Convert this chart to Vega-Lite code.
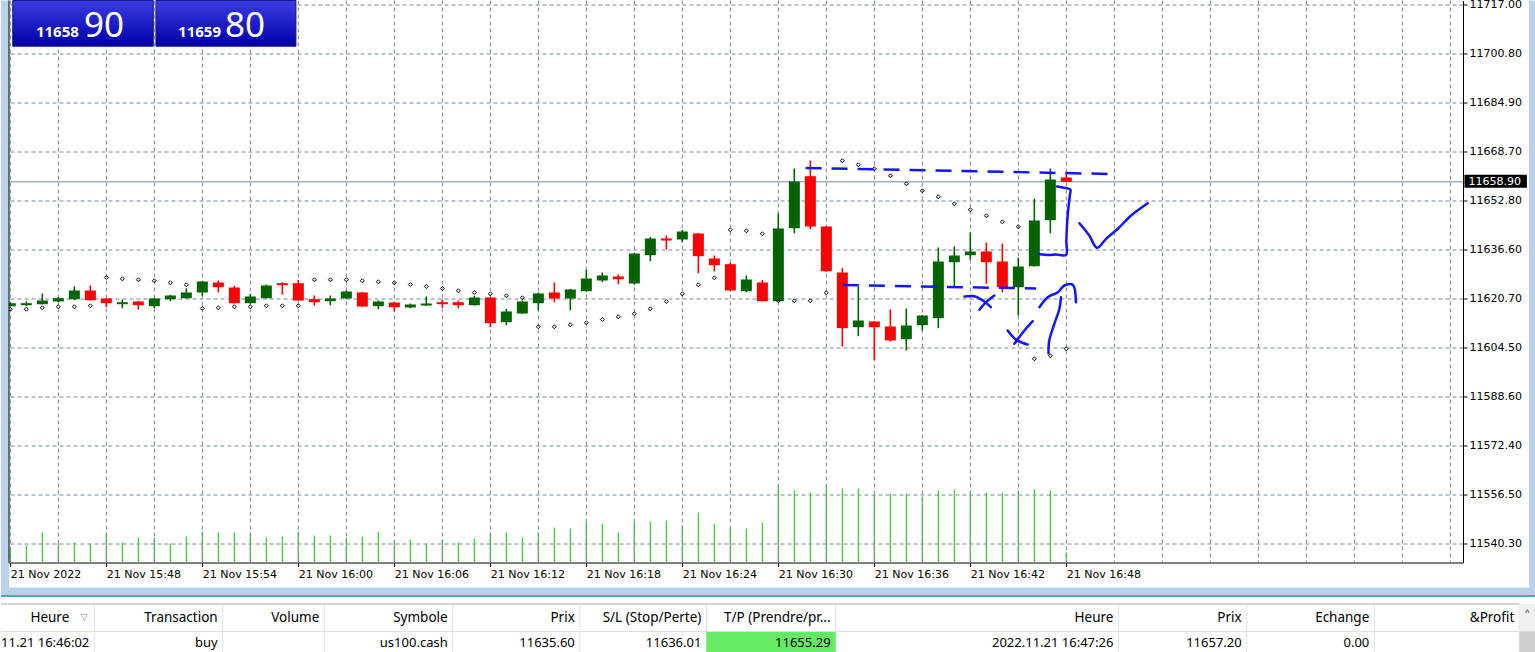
{
  "$schema": "https://vega.github.io/schema/vega-lite/v6.json",
  "background": "#ffffff",
  "padding": {"left": 0, "top": -2.5, "right": 0, "bottom": 0},
  "spacing": 0,
  "config": {"view": {"stroke": null}},
  "datasets": {
    "candles": [
      {"t": "2022-11-21T15:42", "open": 11618.15, "high": 11619.46, "low": 11618.05, "close": 11619.13, "vol": 140},
      {"t": "2022-11-21T15:43", "open": 11618.48, "high": 11619.69, "low": 11618.21, "close": 11619.13, "vol": 170},
      {"t": "2022-11-21T15:44", "open": 11618.80, "high": 11622.31, "low": 11618.70, "close": 11620.01, "vol": 300},
      {"t": "2022-11-21T15:45", "open": 11619.69, "high": 11621.16, "low": 11619.52, "close": 11620.77, "vol": 190},
      {"t": "2022-11-21T15:46", "open": 11620.44, "high": 11624.60, "low": 11620.11, "close": 11623.29, "vol": 200},
      {"t": "2022-11-21T15:47", "open": 11623.29, "high": 11624.93, "low": 11620.01, "close": 11620.11, "vol": 190},
      {"t": "2022-11-21T15:48", "open": 11620.67, "high": 11620.83, "low": 11617.82, "close": 11619.13, "vol": 290},
      {"t": "2022-11-21T15:49", "open": 11618.80, "high": 11620.34, "low": 11617.49, "close": 11619.46, "vol": 200},
      {"t": "2022-11-21T15:50", "open": 11619.69, "high": 11619.85, "low": 11617.07, "close": 11618.48, "vol": 250},
      {"t": "2022-11-21T15:51", "open": 11618.15, "high": 11620.83, "low": 11617.49, "close": 11620.67, "vol": 250},
      {"t": "2022-11-21T15:52", "open": 11620.44, "high": 11621.82, "low": 11619.79, "close": 11621.65, "vol": 190},
      {"t": "2022-11-21T15:53", "open": 11620.77, "high": 11624.05, "low": 11620.67, "close": 11622.64, "vol": 260},
      {"t": "2022-11-21T15:54", "open": 11622.64, "high": 11626.40, "low": 11621.56, "close": 11626.24, "vol": 310},
      {"t": "2022-11-21T15:55", "open": 11625.91, "high": 11626.57, "low": 11622.64, "close": 11624.37, "vol": 300},
      {"t": "2022-11-21T15:56", "open": 11624.27, "high": 11624.83, "low": 11619.03, "close": 11619.13, "vol": 300},
      {"t": "2022-11-21T15:57", "open": 11619.13, "high": 11622.21, "low": 11619.03, "close": 11621.33, "vol": 290},
      {"t": "2022-11-21T15:58", "open": 11620.77, "high": 11625.26, "low": 11620.67, "close": 11624.93, "vol": 250},
      {"t": "2022-11-21T15:59", "open": 11625.68, "high": 11626.01, "low": 11621.98, "close": 11625.03, "vol": 260},
      {"t": "2022-11-21T16:00", "open": 11625.68, "high": 11626.80, "low": 11619.85, "close": 11620.01, "vol": 310},
      {"t": "2022-11-21T16:01", "open": 11620.44, "high": 11621.65, "low": 11618.38, "close": 11619.46, "vol": 270},
      {"t": "2022-11-21T16:02", "open": 11619.79, "high": 11621.65, "low": 11618.48, "close": 11620.67, "vol": 270},
      {"t": "2022-11-21T16:03", "open": 11620.67, "high": 11623.29, "low": 11620.51, "close": 11622.96, "vol": 250},
      {"t": "2022-11-21T16:04", "open": 11622.64, "high": 11622.80, "low": 11617.89, "close": 11618.05, "vol": 260},
      {"t": "2022-11-21T16:05", "open": 11618.15, "high": 11620.01, "low": 11617.16, "close": 11619.69, "vol": 310},
      {"t": "2022-11-21T16:06", "open": 11619.36, "high": 11619.52, "low": 11616.41, "close": 11617.82, "vol": 210},
      {"t": "2022-11-21T16:07", "open": 11617.72, "high": 11619.03, "low": 11617.49, "close": 11618.70, "vol": 230},
      {"t": "2022-11-21T16:08", "open": 11618.38, "high": 11621.33, "low": 11618.21, "close": 11619.03, "vol": 190},
      {"t": "2022-11-21T16:09", "open": 11619.46, "high": 11620.34, "low": 11617.62, "close": 11618.80, "vol": 230},
      {"t": "2022-11-21T16:10", "open": 11619.46, "high": 11620.01, "low": 11617.49, "close": 11618.48, "vol": 200},
      {"t": "2022-11-21T16:11", "open": 11618.48, "high": 11621.56, "low": 11618.38, "close": 11621.00, "vol": 240},
      {"t": "2022-11-21T16:12", "open": 11621.00, "high": 11621.16, "low": 11611.27, "close": 11612.58, "vol": 290},
      {"t": "2022-11-21T16:13", "open": 11612.91, "high": 11617.29, "low": 11611.92, "close": 11616.41, "vol": 300},
      {"t": "2022-11-21T16:14", "open": 11615.76, "high": 11620.01, "low": 11615.59, "close": 11619.69, "vol": 250},
      {"t": "2022-11-21T16:15", "open": 11619.13, "high": 11622.64, "low": 11616.84, "close": 11622.31, "vol": 300},
      {"t": "2022-11-21T16:16", "open": 11622.64, "high": 11625.91, "low": 11619.46, "close": 11620.67, "vol": 350},
      {"t": "2022-11-21T16:17", "open": 11620.67, "high": 11623.85, "low": 11616.84, "close": 11623.62, "vol": 340},
      {"t": "2022-11-21T16:18", "open": 11623.06, "high": 11630.07, "low": 11622.96, "close": 11627.22, "vol": 410},
      {"t": "2022-11-21T16:19", "open": 11626.57, "high": 11629.19, "low": 11626.01, "close": 11628.21, "vol": 390},
      {"t": "2022-11-21T16:20", "open": 11627.88, "high": 11628.53, "low": 11625.36, "close": 11626.99, "vol": 300},
      {"t": "2022-11-21T16:21", "open": 11625.59, "high": 11635.58, "low": 11625.26, "close": 11635.41, "vol": 410},
      {"t": "2022-11-21T16:22", "open": 11634.86, "high": 11640.76, "low": 11632.89, "close": 11640.33, "vol": 410},
      {"t": "2022-11-21T16:23", "open": 11640.33, "high": 11641.31, "low": 11636.73, "close": 11639.67, "vol": 420},
      {"t": "2022-11-21T16:24", "open": 11640.00, "high": 11643.18, "low": 11639.12, "close": 11642.62, "vol": 370},
      {"t": "2022-11-21T16:25", "open": 11641.97, "high": 11642.13, "low": 11628.96, "close": 11634.53, "vol": 500},
      {"t": "2022-11-21T16:26", "open": 11633.78, "high": 11634.76, "low": 11629.52, "close": 11631.58, "vol": 390},
      {"t": "2022-11-21T16:27", "open": 11631.91, "high": 11632.47, "low": 11623.13, "close": 11623.29, "vol": 350},
      {"t": "2022-11-21T16:28", "open": 11623.06, "high": 11628.21, "low": 11622.73, "close": 11626.90, "vol": 340},
      {"t": "2022-11-21T16:29", "open": 11625.91, "high": 11626.80, "low": 11619.69, "close": 11619.79, "vol": 400},
      {"t": "2022-11-21T16:30", "open": 11619.79, "high": 11648.62, "low": 11619.69, "close": 11643.61, "vol": 770},
      {"t": "2022-11-21T16:31", "open": 11643.70, "high": 11663.26, "low": 11642.07, "close": 11659.01, "vol": 720},
      {"t": "2022-11-21T16:32", "open": 11660.74, "high": 11665.89, "low": 11643.38, "close": 11644.26, "vol": 700},
      {"t": "2022-11-21T16:33", "open": 11644.26, "high": 11644.40, "low": 11629.42, "close": 11629.61, "vol": 770},
      {"t": "2022-11-21T16:34", "open": 11629.19, "high": 11630.60, "low": 11604.94, "close": 11610.94, "vol": 740},
      {"t": "2022-11-21T16:35", "open": 11611.27, "high": 11624.60, "low": 11608.32, "close": 11613.46, "vol": 740},
      {"t": "2022-11-21T16:36", "open": 11613.13, "high": 11613.30, "low": 11600.59, "close": 11611.27, "vol": 680},
      {"t": "2022-11-21T16:37", "open": 11611.50, "high": 11617.07, "low": 11606.58, "close": 11606.91, "vol": 690},
      {"t": "2022-11-21T16:38", "open": 11607.34, "high": 11617.39, "low": 11603.63, "close": 11611.82, "vol": 690},
      {"t": "2022-11-21T16:39", "open": 11611.92, "high": 11615.26, "low": 11610.19, "close": 11615.10, "vol": 660},
      {"t": "2022-11-21T16:40", "open": 11614.22, "high": 11637.38, "low": 11610.94, "close": 11632.79, "vol": 720},
      {"t": "2022-11-21T16:41", "open": 11632.56, "high": 11637.71, "low": 11624.37, "close": 11634.76, "vol": 730},
      {"t": "2022-11-21T16:42", "open": 11634.86, "high": 11642.30, "low": 11633.35, "close": 11636.07, "vol": 710},
      {"t": "2022-11-21T16:43", "open": 11636.07, "high": 11639.02, "low": 11625.49, "close": 11632.56, "vol": 700},
      {"t": "2022-11-21T16:44", "open": 11632.79, "high": 11638.69, "low": 11622.73, "close": 11624.37, "vol": 700},
      {"t": "2022-11-21T16:45", "open": 11624.37, "high": 11634.01, "low": 11615.10, "close": 11631.16, "vol": 720},
      {"t": "2022-11-21T16:46", "open": 11631.25, "high": 11653.34, "low": 11631.16, "close": 11646.23, "vol": 730},
      {"t": "2022-11-21T16:47", "open": 11646.33, "high": 11663.26, "low": 11642.07, "close": 11659.66, "vol": 720},
      {"t": "2022-11-21T16:48", "open": 11660.32, "high": 11662.18, "low": 11658.78, "close": 11658.90, "vol": 100}
    ],
    "sar": [
      {"t": "2022-11-21T15:42", "sar": 11617.16}, {"t": "2022-11-21T15:43", "sar": 11617.16},
      {"t": "2022-11-21T15:44", "sar": 11617.62}, {"t": "2022-11-21T15:45", "sar": 11617.95},
      {"t": "2022-11-21T15:46", "sar": 11617.95}, {"t": "2022-11-21T15:47", "sar": 11618.28},
      {"t": "2022-11-21T15:48", "sar": 11627.55}, {"t": "2022-11-21T15:49", "sar": 11627.12},
      {"t": "2022-11-21T15:50", "sar": 11626.80}, {"t": "2022-11-21T15:51", "sar": 11626.47},
      {"t": "2022-11-21T15:52", "sar": 11625.82}, {"t": "2022-11-21T15:53", "sar": 11625.16},
      {"t": "2022-11-21T15:54", "sar": 11617.39}, {"t": "2022-11-21T15:55", "sar": 11617.62},
      {"t": "2022-11-21T15:56", "sar": 11617.95}, {"t": "2022-11-21T15:57", "sar": 11617.95},
      {"t": "2022-11-21T15:58", "sar": 11618.28}, {"t": "2022-11-21T15:59", "sar": 11618.28},
      {"t": "2022-11-21T16:00", "sar": 11618.28}, {"t": "2022-11-21T16:01", "sar": 11626.80},
      {"t": "2022-11-21T16:02", "sar": 11626.80}, {"t": "2022-11-21T16:03", "sar": 11626.80},
      {"t": "2022-11-21T16:04", "sar": 11626.47}, {"t": "2022-11-21T16:05", "sar": 11626.14},
      {"t": "2022-11-21T16:06", "sar": 11625.82}, {"t": "2022-11-21T16:07", "sar": 11625.26},
      {"t": "2022-11-21T16:08", "sar": 11624.60}, {"t": "2022-11-21T16:09", "sar": 11623.95},
      {"t": "2022-11-21T16:10", "sar": 11623.19}, {"t": "2022-11-21T16:11", "sar": 11622.64},
      {"t": "2022-11-21T16:12", "sar": 11622.21}, {"t": "2022-11-21T16:13", "sar": 11621.56},
      {"t": "2022-11-21T16:14", "sar": 11620.90}, {"t": "2022-11-21T16:15", "sar": 11611.40},
      {"t": "2022-11-21T16:16", "sar": 11611.40}, {"t": "2022-11-21T16:17", "sar": 11612.05},
      {"t": "2022-11-21T16:18", "sar": 11612.71}, {"t": "2022-11-21T16:19", "sar": 11613.79},
      {"t": "2022-11-21T16:20", "sar": 11614.67}, {"t": "2022-11-21T16:21", "sar": 11615.66},
      {"t": "2022-11-21T16:22", "sar": 11617.29}, {"t": "2022-11-21T16:23", "sar": 11619.69},
      {"t": "2022-11-21T16:24", "sar": 11622.21}, {"t": "2022-11-21T16:25", "sar": 11625.16},
      {"t": "2022-11-21T16:26", "sar": 11627.45}, {"t": "2022-11-21T16:27", "sar": 11643.18},
      {"t": "2022-11-21T16:28", "sar": 11642.85}, {"t": "2022-11-21T16:29", "sar": 11641.87},
      {"t": "2022-11-21T16:30", "sar": 11619.92}, {"t": "2022-11-21T16:31", "sar": 11619.92},
      {"t": "2022-11-21T16:32", "sar": 11619.92}, {"t": "2022-11-21T16:33", "sar": 11622.54},
      {"t": "2022-11-21T16:34", "sar": 11665.79}, {"t": "2022-11-21T16:35", "sar": 11664.48},
      {"t": "2022-11-21T16:36", "sar": 11663.17}, {"t": "2022-11-21T16:37", "sar": 11660.87},
      {"t": "2022-11-21T16:38", "sar": 11658.25}, {"t": "2022-11-21T16:39", "sar": 11655.96},
      {"t": "2022-11-21T16:40", "sar": 11653.99}, {"t": "2022-11-21T16:41", "sar": 11651.70},
      {"t": "2022-11-21T16:42", "sar": 11649.73}, {"t": "2022-11-21T16:43", "sar": 11647.77},
      {"t": "2022-11-21T16:44", "sar": 11645.80}, {"t": "2022-11-21T16:45", "sar": 11644.16},
      {"t": "2022-11-21T16:46", "sar": 11600.91}, {"t": "2022-11-21T16:47", "sar": 11601.90},
      {"t": "2022-11-21T16:48", "sar": 11604.19}
    ],
    "gridx": [
      {"t": "2022-11-21T15:42"}, {"t": "2022-11-21T15:45"}, {"t": "2022-11-21T15:48"}, {"t": "2022-11-21T15:51"},
      {"t": "2022-11-21T15:54"}, {"t": "2022-11-21T15:57"}, {"t": "2022-11-21T16:00"}, {"t": "2022-11-21T16:03"},
      {"t": "2022-11-21T16:06"}, {"t": "2022-11-21T16:09"}, {"t": "2022-11-21T16:12"}, {"t": "2022-11-21T16:15"},
      {"t": "2022-11-21T16:18"}, {"t": "2022-11-21T16:21"}, {"t": "2022-11-21T16:24"}, {"t": "2022-11-21T16:27"},
      {"t": "2022-11-21T16:30"}, {"t": "2022-11-21T16:33"}, {"t": "2022-11-21T16:36"}, {"t": "2022-11-21T16:39"},
      {"t": "2022-11-21T16:42"}, {"t": "2022-11-21T16:45"}, {"t": "2022-11-21T16:48"}, {"t": "2022-11-21T16:51"},
      {"t": "2022-11-21T16:54"}, {"t": "2022-11-21T16:57"}, {"t": "2022-11-21T17:00"}, {"t": "2022-11-21T17:03"},
      {"t": "2022-11-21T17:06"}, {"t": "2022-11-21T17:09"}, {"t": "2022-11-21T17:12"}
    ],
    "dashes": [
      {"id": "top", "i": 0, "t": "2022-11-21T16:31:42", "p": 11663.43},
      {"id": "top", "i": 1, "t": "2022-11-21T16:50:55", "p": 11661.46},
      {"id": "mid", "i": 0, "t": "2022-11-21T16:34:02", "p": 11625.09},
      {"id": "mid", "i": 1, "t": "2022-11-21T16:46:07", "p": 11623.95}
    ],
    "ink": [
      {"id": "e", "i": 0, "t": "2022-11-21T16:47:25", "p": 11657.37},
      {"id": "e", "i": 1, "t": "2022-11-21T16:47:52", "p": 11656.94},
      {"id": "e", "i": 2, "t": "2022-11-21T16:48:15", "p": 11656.38},
      {"id": "e", "i": 3, "t": "2022-11-21T16:48:13", "p": 11654.42},
      {"id": "e", "i": 4, "t": "2022-11-21T16:48:05", "p": 11647.87},
      {"id": "e", "i": 5, "t": "2022-11-21T16:48:00", "p": 11639.67},
      {"id": "e", "i": 6, "t": "2022-11-21T16:47:59", "p": 11634.99},
      {"id": "e", "i": 7, "t": "2022-11-21T16:47:21", "p": 11635.09},
      {"id": "e", "i": 8, "t": "2022-11-21T16:46:55", "p": 11634.92},
      {"id": "e", "i": 9, "t": "2022-11-21T16:46:19", "p": 11635.19},
      {"id": "f", "i": 0, "t": "2022-11-21T16:48:49", "p": 11645.34},
      {"id": "f", "i": 1, "t": "2022-11-21T16:49:26", "p": 11641.31},
      {"id": "f", "i": 2, "t": "2022-11-21T16:49:55", "p": 11637.28},
      {"id": "f", "i": 3, "t": "2022-11-21T16:50:29", "p": 11640.23},
      {"id": "f", "i": 4, "t": "2022-11-21T16:51:13", "p": 11643.51},
      {"id": "f", "i": 5, "t": "2022-11-21T16:52:03", "p": 11647.87},
      {"id": "f", "i": 6, "t": "2022-11-21T16:53:05", "p": 11651.89},
      {"id": "g", "i": 0, "t": "2022-11-21T16:46:19", "p": 11617.82},
      {"id": "g", "i": 1, "t": "2022-11-21T16:46:50", "p": 11621.10},
      {"id": "g", "i": 2, "t": "2022-11-21T16:47:28", "p": 11622.73},
      {"id": "g", "i": 3, "t": "2022-11-21T16:47:53", "p": 11624.93},
      {"id": "g", "i": 4, "t": "2022-11-21T16:48:24", "p": 11625.16},
      {"id": "g", "i": 5, "t": "2022-11-21T16:48:36", "p": 11619.46},
      {"id": "h", "i": 0, "t": "2022-11-21T16:46:53", "p": 11602.75},
      {"id": "h", "i": 1, "t": "2022-11-21T16:46:56", "p": 11606.91},
      {"id": "h", "i": 2, "t": "2022-11-21T16:47:15", "p": 11612.38},
      {"id": "h", "i": 3, "t": "2022-11-21T16:47:34", "p": 11617.30},
      {"id": "h", "i": 4, "t": "2022-11-21T16:47:40", "p": 11621.10},
      {"id": "b1", "i": 0, "t": "2022-11-21T16:45:54", "p": 11613.23},
      {"id": "b1", "i": 1, "t": "2022-11-21T16:45:23", "p": 11610.19},
      {"id": "b1", "i": 2, "t": "2022-11-21T16:44:45", "p": 11605.83},
      {"id": "b2", "i": 0, "t": "2022-11-21T16:44:20", "p": 11610.19},
      {"id": "b2", "i": 1, "t": "2022-11-21T16:44:52", "p": 11607.14},
      {"id": "b2", "i": 2, "t": "2022-11-21T16:45:35", "p": 11605.60},
      {"id": "a1", "i": 0, "t": "2022-11-21T16:41:38", "p": 11621.33},
      {"id": "a1", "i": 1, "t": "2022-11-21T16:42:15", "p": 11621.43},
      {"id": "a1", "i": 2, "t": "2022-11-21T16:42:47", "p": 11620.01},
      {"id": "a1", "i": 3, "t": "2022-11-21T16:43:17", "p": 11617.82},
      {"id": "a2", "i": 0, "t": "2022-11-21T16:43:30", "p": 11621.65},
      {"id": "a2", "i": 1, "t": "2022-11-21T16:42:59", "p": 11619.46},
      {"id": "a2", "i": 2, "t": "2022-11-21T16:42:34", "p": 11616.97}
    ],
    "cols": [{"c": 1}, {"c": 2}, {"c": 3}, {"c": 4}, {"c": 5}, {"c": 6}, {"c": 7}, {"c": 8}, {"c": 9}, {"c": 10}, {"c": 11}],
    "head": [
      {"c": 2, "label": "Transaction"}, {"c": 3, "label": "Volume"}, {"c": 4, "label": "Symbole"},
      {"c": 5, "label": "Prix"}, {"c": 6, "label": "S/L (Stop/Perte)"}, {"c": 7, "label": "T/P (Prendre/pr..."},
      {"c": 8, "label": "Heure"}, {"c": 9, "label": "Prix"}, {"c": 10, "label": "Echange"}, {"c": 11, "label": "&Profit"}
    ],
    "row": [
      {"c": 1, "label": "11.21 16:46:02"}, {"c": 2, "label": "buy"}, {"c": 4, "label": "us100.cash"},
      {"c": 5, "label": "11635.60"}, {"c": 6, "label": "11636.01"}, {"c": 7, "label": "11655.29"},
      {"c": 8, "label": "2022.11.21 16:47:26"}, {"c": 9, "label": "11657.20"}, {"c": 10, "label": "0.00"}
    ]
  },
  "vconcat": [
    {
      "width": 1462,
      "height": 562,
      "layer": [
        {
          "data": {"name": "candles"},
          "mark": {"type": "rule", "color": "#32cd32", "strokeWidth": 1.2},
          "encoding": {
            "x": {"field": "t", "type": "temporal", "title": null, "scale": {"padding": 0, "domain": [{"year": 2022, "month": 11, "date": 21, "hours": 15, "minutes": 41, "seconds": 25}, {"year": 2022, "month": 11, "date": 21, "hours": 17, "minutes": 12, "seconds": 47, "milliseconds": 500}]}},
            "y": {"field": "vol", "type": "quantitative", "axis": null, "title": null, "scale": {"domain": [0, 5620], "nice": false}},
            "y2": {"datum": 0}
          }
        },
        {
          "layer": [
            {
              "data": {"name": "gridx"},
              "mark": {"type": "rule", "color": "#778899", "strokeDash": [4, 3], "strokeWidth": 1},
              "encoding": {"x": {"field": "t", "type": "temporal", "title": null, "scale": {"padding": 0, "domain": [{"year": 2022, "month": 11, "date": 21, "hours": 15, "minutes": 41, "seconds": 25}, {"year": 2022, "month": 11, "date": 21, "hours": 17, "minutes": 12, "seconds": 47, "milliseconds": 500}]}}}
            },
            {
              "data": {"values": [{}]},
              "mark": {"type": "rule", "color": "#778899", "strokeWidth": 1},
              "encoding": {"y": {"datum": 11658.9, "type": "quantitative", "title": null, "scale": {"domain": [11534.17, 11718.31], "zero": false, "nice": false}}}
            },
            {
              "data": {"name": "candles"},
              "mark": {"type": "rule", "strokeWidth": 1.6},
              "encoding": {
                "x": {
                  "field": "t", "type": "temporal", "title": null,
                  "scale": {"padding": 0, "domain": [{"year": 2022, "month": 11, "date": 21, "hours": 15, "minutes": 41, "seconds": 25}, {"year": 2022, "month": 11, "date": 21, "hours": 17, "minutes": 12, "seconds": 47, "milliseconds": 500}]},
                  "axis": {
                    "values": [
                      {"year": 2022, "month": 11, "date": 21, "hours": 15, "minutes": 42},
                      {"year": 2022, "month": 11, "date": 21, "hours": 15, "minutes": 48},
                      {"year": 2022, "month": 11, "date": 21, "hours": 15, "minutes": 54},
                      {"year": 2022, "month": 11, "date": 21, "hours": 16, "minutes": 0},
                      {"year": 2022, "month": 11, "date": 21, "hours": 16, "minutes": 6},
                      {"year": 2022, "month": 11, "date": 21, "hours": 16, "minutes": 12},
                      {"year": 2022, "month": 11, "date": 21, "hours": 16, "minutes": 18},
                      {"year": 2022, "month": 11, "date": 21, "hours": 16, "minutes": 24},
                      {"year": 2022, "month": 11, "date": 21, "hours": 16, "minutes": 30},
                      {"year": 2022, "month": 11, "date": 21, "hours": 16, "minutes": 36},
                      {"year": 2022, "month": 11, "date": 21, "hours": 16, "minutes": 42},
                      {"year": 2022, "month": 11, "date": 21, "hours": 16, "minutes": 48}
                    ],
                    "labelExpr": "timeFormat(datum.value, '%H:%M') == '15:42' ? '21 Nov 2022' : timeFormat(datum.value, '%d %b %H:%M')",
                    "labelAlign": "left",
                    "labelPadding": 2,
                    "labelFont": "DejaVu Sans",
                    "labelFontSize": 11,
                    "labelColor": "#000000",
                    "labelOverlap": false,
                    "labelFlush": false,
                    "tickSize": 4,
                    "tickColor": "#000000",
                    "domainColor": "#000000",
                    "grid": false
                  }
                },
                "y": {
                  "field": "low", "type": "quantitative", "title": null,
                  "scale": {"domain": [11534.17, 11718.31], "zero": false, "nice": false},
                  "axis": {
                    "orient": "right",
                    "values": [11717.0, 11700.8, 11684.9, 11668.7, 11652.8, 11636.6, 11620.7, 11604.5, 11588.6, 11572.4, 11556.5, 11540.3],
                    "format": ".2f",
                    "labelFont": "DejaVu Sans",
                    "labelFontSize": 11,
                    "labelColor": "#000000",
                    "labelPadding": 2,
                    "labelOverlap": false,
                    "labelFlush": false,
                    "tickSize": 4,
                    "tickColor": "#000000",
                    "domainColor": "#000000",
                    "grid": true,
                    "gridColor": "#778899",
                    "gridDash": [4, 3],
                    "gridWidth": 1
                  }
                },
                "y2": {"field": "high"},
                "color": {"condition": {"test": "datum.close < datum.open", "value": "#ff0000"}, "value": "#006400"}
              }
            },
            {
              "data": {"name": "candles"},
              "mark": {"type": "bar", "size": 11},
              "encoding": {
                "x": {"field": "t", "type": "temporal", "title": null, "scale": {"padding": 0, "domain": [{"year": 2022, "month": 11, "date": 21, "hours": 15, "minutes": 41, "seconds": 25}, {"year": 2022, "month": 11, "date": 21, "hours": 17, "minutes": 12, "seconds": 47, "milliseconds": 500}]}},
                "y": {"field": "open", "type": "quantitative", "title": null, "scale": {"domain": [11534.17, 11718.31], "zero": false, "nice": false}},
                "y2": {"field": "close"},
                "color": {"condition": {"test": "datum.close < datum.open", "value": "#ff0000"}, "value": "#006400"}
              }
            },
            {
              "data": {"name": "sar"},
              "mark": {"type": "point", "shape": "diamond", "filled": false, "size": 16, "stroke": "#000000", "strokeWidth": 1, "opacity": 1},
              "encoding": {
                "x": {"field": "t", "type": "temporal", "title": null, "scale": {"padding": 0, "domain": [{"year": 2022, "month": 11, "date": 21, "hours": 15, "minutes": 41, "seconds": 25}, {"year": 2022, "month": 11, "date": 21, "hours": 17, "minutes": 12, "seconds": 47, "milliseconds": 500}]}},
                "y": {"field": "sar", "type": "quantitative", "title": null, "scale": {"domain": [11534.17, 11718.31], "zero": false, "nice": false}}
              }
            },
            {
              "data": {"name": "dashes"},
              "mark": {"type": "line", "color": "#1414ff", "strokeWidth": 2.5, "strokeDash": [16, 10]},
              "encoding": {
                "x": {"field": "t", "type": "temporal", "title": null, "scale": {"padding": 0, "domain": [{"year": 2022, "month": 11, "date": 21, "hours": 15, "minutes": 41, "seconds": 25}, {"year": 2022, "month": 11, "date": 21, "hours": 17, "minutes": 12, "seconds": 47, "milliseconds": 500}]}},
                "y": {"field": "p", "type": "quantitative", "title": null, "scale": {"domain": [11534.17, 11718.31], "zero": false, "nice": false}},
                "detail": {"field": "id"},
                "order": {"field": "i"}
              }
            },
            {
              "data": {"name": "ink"},
              "mark": {"type": "line", "color": "#1414ff", "strokeWidth": 2.5, "interpolate": "catmull-rom", "strokeCap": "round"},
              "encoding": {
                "x": {"field": "t", "type": "temporal", "title": null, "scale": {"padding": 0, "domain": [{"year": 2022, "month": 11, "date": 21, "hours": 15, "minutes": 41, "seconds": 25}, {"year": 2022, "month": 11, "date": 21, "hours": 17, "minutes": 12, "seconds": 47, "milliseconds": 500}]}},
                "y": {"field": "p", "type": "quantitative", "title": null, "scale": {"domain": [11534.17, 11718.31], "zero": false, "nice": false}},
                "detail": {"field": "id"},
                "order": {"field": "i"}
              }
            },
            {
              "data": {"values": [{}]},
              "mark": {"type": "rect", "stroke": "#14148c", "strokeWidth": 1, "fill": {"gradient": "linear", "x1": 0, "y1": 0, "x2": 0, "y2": 1, "stops": [{"offset": 0, "color": "#3c3ce6"}, {"offset": 1, "color": "#0000a8"}]}},
              "encoding": {
                "x": {"datum": {"year": 2022, "month": 11, "date": 21, "hours": 15, "minutes": 42, "seconds": 9}, "type": "temporal", "title": null, "scale": {"padding": 0, "domain": [{"year": 2022, "month": 11, "date": 21, "hours": 15, "minutes": 41, "seconds": 25}, {"year": 2022, "month": 11, "date": 21, "hours": 17, "minutes": 12, "seconds": 47, "milliseconds": 500}]}},
                "x2": {"datum": {"year": 2022, "month": 11, "date": 21, "hours": 15, "minutes": 50, "seconds": 56}},
                "y": {"datum": 11718.31, "type": "quantitative", "title": null, "scale": {"domain": [11534.17, 11718.31], "zero": false, "nice": false}},
                "y2": {"datum": 11703.34}
              }
            },
            {
              "data": {"values": [{}]},
              "mark": {"type": "rect", "stroke": "#14148c", "strokeWidth": 1, "fill": {"gradient": "linear", "x1": 0, "y1": 0, "x2": 0, "y2": 1, "stops": [{"offset": 0, "color": "#3c3ce6"}, {"offset": 1, "color": "#0000a8"}]}},
              "encoding": {
                "x": {"datum": {"year": 2022, "month": 11, "date": 21, "hours": 15, "minutes": 51, "seconds": 6}, "type": "temporal", "title": null, "scale": {"padding": 0, "domain": [{"year": 2022, "month": 11, "date": 21, "hours": 15, "minutes": 41, "seconds": 25}, {"year": 2022, "month": 11, "date": 21, "hours": 17, "minutes": 12, "seconds": 47, "milliseconds": 500}]}},
                "x2": {"datum": {"year": 2022, "month": 11, "date": 21, "hours": 15, "minutes": 59, "seconds": 51}},
                "y": {"datum": 11718.31, "type": "quantitative", "title": null, "scale": {"domain": [11534.17, 11718.31], "zero": false, "nice": false}},
                "y2": {"datum": 11703.34}
              }
            },
            {
              "data": {"values": [{}]},
              "mark": {"type": "text", "align": "right", "baseline": "alphabetic", "font": "Noto Sans", "fontWeight": "bold", "fontSize": 15, "color": "#ffffff"},
              "encoding": {
                "x": {"datum": {"year": 2022, "month": 11, "date": 21, "hours": 15, "minutes": 46, "seconds": 17}, "type": "temporal", "title": null, "scale": {"padding": 0, "domain": [{"year": 2022, "month": 11, "date": 21, "hours": 15, "minutes": 41, "seconds": 25}, {"year": 2022, "month": 11, "date": 21, "hours": 17, "minutes": 12, "seconds": 47, "milliseconds": 500}]}},
                "y": {"datum": 11706.29, "type": "quantitative", "title": null, "scale": {"domain": [11534.17, 11718.31], "zero": false, "nice": false}},
                "text": {"value": "11658"}
              }
            },
            {
              "data": {"values": [{}]},
              "mark": {"type": "text", "align": "left", "baseline": "alphabetic", "font": "Noto Sans", "fontSize": 35, "color": "#ffffff"},
              "encoding": {
                "x": {"datum": {"year": 2022, "month": 11, "date": 21, "hours": 15, "minutes": 46, "seconds": 36}, "type": "temporal", "title": null, "scale": {"padding": 0, "domain": [{"year": 2022, "month": 11, "date": 21, "hours": 15, "minutes": 41, "seconds": 25}, {"year": 2022, "month": 11, "date": 21, "hours": 17, "minutes": 12, "seconds": 47, "milliseconds": 500}]}},
                "y": {"datum": 11706.29, "type": "quantitative", "title": null, "scale": {"domain": [11534.17, 11718.31], "zero": false, "nice": false}},
                "text": {"value": "90"}
              }
            },
            {
              "data": {"values": [{}]},
              "mark": {"type": "text", "align": "right", "baseline": "alphabetic", "font": "Noto Sans", "fontWeight": "bold", "fontSize": 15, "color": "#ffffff"},
              "encoding": {
                "x": {"datum": {"year": 2022, "month": 11, "date": 21, "hours": 15, "minutes": 55, "seconds": 10}, "type": "temporal", "title": null, "scale": {"padding": 0, "domain": [{"year": 2022, "month": 11, "date": 21, "hours": 15, "minutes": 41, "seconds": 25}, {"year": 2022, "month": 11, "date": 21, "hours": 17, "minutes": 12, "seconds": 47, "milliseconds": 500}]}},
                "y": {"datum": 11706.29, "type": "quantitative", "title": null, "scale": {"domain": [11534.17, 11718.31], "zero": false, "nice": false}},
                "text": {"value": "11659"}
              }
            },
            {
              "data": {"values": [{}]},
              "mark": {"type": "text", "align": "left", "baseline": "alphabetic", "font": "Noto Sans", "fontSize": 35, "color": "#ffffff"},
              "encoding": {
                "x": {"datum": {"year": 2022, "month": 11, "date": 21, "hours": 15, "minutes": 55, "seconds": 25}, "type": "temporal", "title": null, "scale": {"padding": 0, "domain": [{"year": 2022, "month": 11, "date": 21, "hours": 15, "minutes": 41, "seconds": 25}, {"year": 2022, "month": 11, "date": 21, "hours": 17, "minutes": 12, "seconds": 47, "milliseconds": 500}]}},
                "y": {"datum": 11706.29, "type": "quantitative", "title": null, "scale": {"domain": [11534.17, 11718.31], "zero": false, "nice": false}},
                "text": {"value": "80"}
              }
            },
            {
              "data": {"values": [{}]},
              "mark": {"type": "rect", "color": "#000000"},
              "encoding": {
                "x": {"datum": {"year": 2022, "month": 11, "date": 21, "hours": 17, "minutes": 12, "seconds": 53}, "type": "temporal", "title": null, "scale": {"padding": 0, "domain": [{"year": 2022, "month": 11, "date": 21, "hours": 15, "minutes": 41, "seconds": 25}, {"year": 2022, "month": 11, "date": 21, "hours": 17, "minutes": 12, "seconds": 47, "milliseconds": 500}]}},
                "x2": {"datum": {"year": 2022, "month": 11, "date": 21, "hours": 17, "minutes": 16, "seconds": 47}},
                "y": {"datum": 11661.2, "type": "quantitative", "title": null, "scale": {"domain": [11534.17, 11718.31], "zero": false, "nice": false}},
                "y2": {"datum": 11656.94}
              }
            },
            {
              "data": {"values": [{}]},
              "mark": {"type": "text", "align": "left", "baseline": "middle", "dx": 5.5, "font": "DejaVu Sans", "fontSize": 11, "color": "#ffffff"},
              "encoding": {
                "x": {"datum": {"year": 2022, "month": 11, "date": 21, "hours": 17, "minutes": 12, "seconds": 47, "milliseconds": 500}, "type": "temporal", "title": null, "scale": {"padding": 0, "domain": [{"year": 2022, "month": 11, "date": 21, "hours": 15, "minutes": 41, "seconds": 25}, {"year": 2022, "month": 11, "date": 21, "hours": 17, "minutes": 12, "seconds": 47, "milliseconds": 500}]}},
                "y": {"datum": 11658.9, "type": "quantitative", "title": null, "scale": {"domain": [11534.17, 11718.31], "zero": false, "nice": false}},
                "text": {"value": "11658.90"}
              }
            },
            {
              "data": {"values": [{}]},
              "mark": {"type": "rect", "color": "#b9d1ea"},
              "encoding": {
                "x": {"datum": {"year": 2022, "month": 11, "date": 21, "hours": 15, "minutes": 41, "seconds": 25}, "type": "temporal", "title": null, "scale": {"padding": 0, "domain": [{"year": 2022, "month": 11, "date": 21, "hours": 15, "minutes": 41, "seconds": 25}, {"year": 2022, "month": 11, "date": 21, "hours": 17, "minutes": 12, "seconds": 47, "milliseconds": 500}]}},
                "x2": {"datum": {"year": 2022, "month": 11, "date": 21, "hours": 15, "minutes": 41, "seconds": 55}},
                "y": {"datum": 11718.31, "type": "quantitative", "title": null, "scale": {"domain": [11534.17, 11718.31], "zero": false, "nice": false}},
                "y2": {"datum": 11523.36}
              }
            },
            {
              "data": {"values": [{}]},
              "mark": {"type": "rect", "color": "#b9d1ea"},
              "encoding": {
                "x": {"datum": {"year": 2022, "month": 11, "date": 21, "hours": 17, "minutes": 16, "seconds": 55}, "type": "temporal", "title": null, "scale": {"padding": 0, "domain": [{"year": 2022, "month": 11, "date": 21, "hours": 15, "minutes": 41, "seconds": 25}, {"year": 2022, "month": 11, "date": 21, "hours": 17, "minutes": 12, "seconds": 47, "milliseconds": 500}]}},
                "x2": {"datum": {"year": 2022, "month": 11, "date": 21, "hours": 17, "minutes": 17, "seconds": 21}},
                "y": {"datum": 11718.31, "type": "quantitative", "title": null, "scale": {"domain": [11534.17, 11718.31], "zero": false, "nice": false}},
                "y2": {"datum": 11523.36}
              }
            },
            {
              "data": {"values": [{}]},
              "mark": {"type": "rect", "color": "#b9d1ea"},
              "encoding": {
                "x": {"datum": {"year": 2022, "month": 11, "date": 21, "hours": 15, "minutes": 41, "seconds": 25}, "type": "temporal", "title": null, "scale": {"padding": 0, "domain": [{"year": 2022, "month": 11, "date": 21, "hours": 15, "minutes": 41, "seconds": 25}, {"year": 2022, "month": 11, "date": 21, "hours": 17, "minutes": 12, "seconds": 47, "milliseconds": 500}]}},
                "x2": {"datum": {"year": 2022, "month": 11, "date": 21, "hours": 17, "minutes": 17, "seconds": 21}},
                "y": {"datum": 11525.98, "type": "quantitative", "title": null, "scale": {"domain": [11534.17, 11718.31], "zero": false, "nice": false}},
                "y2": {"datum": 11523.36}
              }
            },
            {
              "data": {"values": [{}]},
              "mark": {"type": "rule", "color": "#2a8a98", "strokeWidth": 1.5},
              "encoding": {
                "x": {"datum": {"year": 2022, "month": 11, "date": 21, "hours": 15, "minutes": 41, "seconds": 25}, "type": "temporal", "title": null, "scale": {"padding": 0, "domain": [{"year": 2022, "month": 11, "date": 21, "hours": 15, "minutes": 41, "seconds": 25}, {"year": 2022, "month": 11, "date": 21, "hours": 17, "minutes": 12, "seconds": 47, "milliseconds": 500}]}},
                "x2": {"datum": {"year": 2022, "month": 11, "date": 21, "hours": 17, "minutes": 17, "seconds": 21}},
                "y": {"datum": 11523.2, "type": "quantitative", "title": null, "scale": {"domain": [11534.17, 11718.31], "zero": false, "nice": false}}
              }
            },
            {
              "data": {"values": [{}]},
              "mark": {"type": "rule", "color": "#000000", "strokeWidth": 1},
              "encoding": {
                "x": {"datum": {"year": 2022, "month": 11, "date": 21, "hours": 15, "minutes": 41, "seconds": 55}, "type": "temporal", "title": null, "scale": {"padding": 0, "domain": [{"year": 2022, "month": 11, "date": 21, "hours": 15, "minutes": 41, "seconds": 25}, {"year": 2022, "month": 11, "date": 21, "hours": 17, "minutes": 12, "seconds": 47, "milliseconds": 500}]}}
              }
            }
          ]
        }
      ],
      "resolve": {"scale": {"y": "independent"}}
    },
    {
      "width": 1535,
      "height": 56,
      "view": {"fill": "#ffffff", "stroke": null},
      "layer": [
        {
          "data": {"name": "cols"},
          "mark": {"type": "rule", "color": "#e3e3e3", "strokeWidth": 1},
          "encoding": {
            "x": {"field": "c", "type": "quantitative", "axis": null, "scale": {"domain": [0, 1, 2, 3, 4, 5, 6, 7, 8, 9, 10, 11, 12], "range": [0, 93.3, 221.7, 323.3, 451.7, 578.8, 705.4, 834.6, 1117.4, 1245.7, 1373.3, 1518.3, 1535], "zero": false, "nice": false}},
            "y": {"datum": 1, "type": "quantitative", "axis": null, "scale": {"domain": [0, 1, 2, 3], "range": [0, 6.5, 34, 56], "zero": false, "nice": false}},
            "y2": {"datum": 3}
          }
        },
        {
          "data": {"values": [{}]},
          "mark": {"type": "rect", "color": "#63eb63"},
          "encoding": {
            "x": {"datum": 6, "type": "quantitative", "axis": null},
            "x2": {"datum": 7},
            "y": {"datum": 2, "type": "quantitative", "axis": null},
            "y2": {"datum": 3}
          }
        },
        {
          "data": {"values": [{}]},
          "mark": {"type": "rule", "color": "#d3d3d3", "strokeWidth": 2},
          "encoding": {
            "x": {"datum": 0, "type": "quantitative", "axis": null},
            "x2": {"datum": 11},
            "y": {"datum": 1, "type": "quantitative", "axis": null}
          }
        },
        {
          "data": {"values": [{}]},
          "mark": {"type": "rule", "color": "#dedede", "strokeWidth": 1},
          "encoding": {
            "x": {"datum": 0, "type": "quantitative", "axis": null},
            "x2": {"datum": 11},
            "y": {"datum": 2, "type": "quantitative", "axis": null}
          }
        },
        {
          "data": {"name": "head"},
          "mark": {"type": "text", "align": "right", "baseline": "middle", "dx": -5, "dy": 14, "font": "Noto Sans", "fontSize": 13.5, "color": "#000000"},
          "encoding": {
            "x": {"field": "c", "type": "quantitative", "axis": null},
            "y": {"datum": 1, "type": "quantitative", "axis": null},
            "text": {"field": "label"}
          }
        },
        {
          "data": {"name": "row"},
          "mark": {"type": "text", "align": "right", "baseline": "middle", "dx": -5, "dy": 11, "font": "Noto Sans", "fontSize": 13, "color": "#000000", "clip": true},
          "encoding": {
            "x": {"field": "c", "type": "quantitative", "axis": null},
            "y": {"datum": 2, "type": "quantitative", "axis": null},
            "text": {"field": "label"}
          }
        },
        {
          "data": {"values": [{}]},
          "mark": {"type": "text", "align": "right", "baseline": "middle", "dx": -25, "dy": 14, "font": "Noto Sans", "fontSize": 13.5, "color": "#000000"},
          "encoding": {
            "x": {"datum": 1, "type": "quantitative", "axis": null},
            "y": {"datum": 1, "type": "quantitative", "axis": null},
            "text": {"value": "Heure"}
          }
        },
        {
          "data": {"values": [{}]},
          "mark": {"type": "text", "align": "center", "baseline": "middle", "dx": -10, "dy": 13, "font": "DejaVu Sans", "fontSize": 9, "color": "#808080"},
          "encoding": {
            "x": {"datum": 1, "type": "quantitative", "axis": null},
            "y": {"datum": 1, "type": "quantitative", "axis": null},
            "text": {"value": "▽"}
          }
        },
        {
          "data": {"values": [{}]},
          "mark": {"type": "rect", "color": "#f0f0f0"},
          "encoding": {
            "x": {"datum": 11, "type": "quantitative", "axis": null},
            "x2": {"datum": 12},
            "y": {"datum": 1, "type": "quantitative", "axis": null},
            "y2": {"datum": 3}
          }
        },
        {
          "data": {"values": [{}]},
          "mark": {"type": "rect", "color": "#cdcdcd"},
          "encoding": {
            "x": {"datum": 11, "type": "quantitative", "axis": null},
            "x2": {"datum": 12},
            "y": {"datum": 2, "type": "quantitative", "axis": null},
            "y2": {"datum": 3}
          }
        },
        {
          "data": {"values": [{}]},
          "mark": {"type": "text", "align": "center", "baseline": "middle", "dx": 8, "dy": 13, "font": "DejaVu Sans", "fontSize": 14, "color": "#606060"},
          "encoding": {
            "x": {"datum": 11, "type": "quantitative", "axis": null},
            "y": {"datum": 1, "type": "quantitative", "axis": null},
            "text": {"value": "˄"}
          }
        }
      ]
    }
  ]
}
